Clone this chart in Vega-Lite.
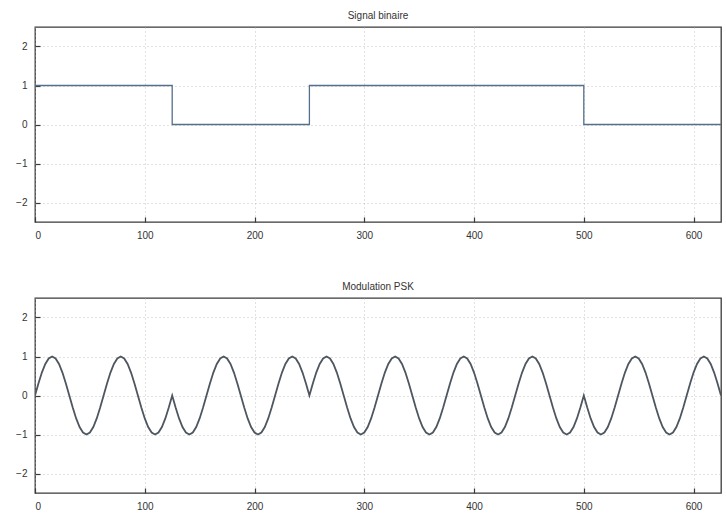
{
  "$schema": "https://vega.github.io/schema/vega-lite/v6.json",
  "padding": {"left": 14, "top": 10, "right": 0, "bottom": 0},
  "background": "white",
  "bounds": "flush",
  "spacing": 76,
  "datasets": {
    "sig": [
      {"t": 0, "y": 1}, {"t": 125, "y": 1}, {"t": 125, "y": 0}, {"t": 250, "y": 0},
      {"t": 250, "y": 1}, {"t": 500, "y": 1}, {"t": 500, "y": 0}, {"t": 625, "y": 0}
    ],
    "psk": [
      {"t":0,"y":0},{"t":3.125,"y":0.309},{"t":6.25,"y":0.588},{"t":9.375,"y":0.809},{"t":12.5,"y":0.951},{"t":15.625,"y":1},{"t":18.75,"y":0.951},{"t":21.875,"y":0.809},{"t":25,"y":0.588},{"t":28.125,"y":0.309},
      {"t":31.25,"y":0},{"t":34.375,"y":-0.309},{"t":37.5,"y":-0.588},{"t":40.625,"y":-0.809},{"t":43.75,"y":-0.951},{"t":46.875,"y":-1},{"t":50,"y":-0.951},{"t":53.125,"y":-0.809},{"t":56.25,"y":-0.588},{"t":59.375,"y":-0.309},
      {"t":62.5,"y":0},{"t":65.625,"y":0.309},{"t":68.75,"y":0.588},{"t":71.875,"y":0.809},{"t":75,"y":0.951},{"t":78.125,"y":1},{"t":81.25,"y":0.951},{"t":84.375,"y":0.809},{"t":87.5,"y":0.588},{"t":90.625,"y":0.309},
      {"t":93.75,"y":0},{"t":96.875,"y":-0.309},{"t":100,"y":-0.588},{"t":103.125,"y":-0.809},{"t":106.25,"y":-0.951},{"t":109.375,"y":-1},{"t":112.5,"y":-0.951},{"t":115.625,"y":-0.809},{"t":118.75,"y":-0.588},{"t":121.875,"y":-0.309},
      {"t":125,"y":0},{"t":128.125,"y":-0.309},{"t":131.25,"y":-0.588},{"t":134.375,"y":-0.809},{"t":137.5,"y":-0.951},{"t":140.625,"y":-1},{"t":143.75,"y":-0.951},{"t":146.875,"y":-0.809},{"t":150,"y":-0.588},{"t":153.125,"y":-0.309},
      {"t":156.25,"y":0},{"t":159.375,"y":0.309},{"t":162.5,"y":0.588},{"t":165.625,"y":0.809},{"t":168.75,"y":0.951},{"t":171.875,"y":1},{"t":175,"y":0.951},{"t":178.125,"y":0.809},{"t":181.25,"y":0.588},{"t":184.375,"y":0.309},
      {"t":187.5,"y":0},{"t":190.625,"y":-0.309},{"t":193.75,"y":-0.588},{"t":196.875,"y":-0.809},{"t":200,"y":-0.951},{"t":203.125,"y":-1},{"t":206.25,"y":-0.951},{"t":209.375,"y":-0.809},{"t":212.5,"y":-0.588},{"t":215.625,"y":-0.309},
      {"t":218.75,"y":0},{"t":221.875,"y":0.309},{"t":225,"y":0.588},{"t":228.125,"y":0.809},{"t":231.25,"y":0.951},{"t":234.375,"y":1},{"t":237.5,"y":0.951},{"t":240.625,"y":0.809},{"t":243.75,"y":0.588},{"t":246.875,"y":0.309},
      {"t":250,"y":0},{"t":253.125,"y":0.309},{"t":256.25,"y":0.588},{"t":259.375,"y":0.809},{"t":262.5,"y":0.951},{"t":265.625,"y":1},{"t":268.75,"y":0.951},{"t":271.875,"y":0.809},{"t":275,"y":0.588},{"t":278.125,"y":0.309},
      {"t":281.25,"y":0},{"t":284.375,"y":-0.309},{"t":287.5,"y":-0.588},{"t":290.625,"y":-0.809},{"t":293.75,"y":-0.951},{"t":296.875,"y":-1},{"t":300,"y":-0.951},{"t":303.125,"y":-0.809},{"t":306.25,"y":-0.588},{"t":309.375,"y":-0.309},
      {"t":312.5,"y":0},{"t":315.625,"y":0.309},{"t":318.75,"y":0.588},{"t":321.875,"y":0.809},{"t":325,"y":0.951},{"t":328.125,"y":1},{"t":331.25,"y":0.951},{"t":334.375,"y":0.809},{"t":337.5,"y":0.588},{"t":340.625,"y":0.309},
      {"t":343.75,"y":0},{"t":346.875,"y":-0.309},{"t":350,"y":-0.588},{"t":353.125,"y":-0.809},{"t":356.25,"y":-0.951},{"t":359.375,"y":-1},{"t":362.5,"y":-0.951},{"t":365.625,"y":-0.809},{"t":368.75,"y":-0.588},{"t":371.875,"y":-0.309},
      {"t":375,"y":0},{"t":378.125,"y":0.309},{"t":381.25,"y":0.588},{"t":384.375,"y":0.809},{"t":387.5,"y":0.951},{"t":390.625,"y":1},{"t":393.75,"y":0.951},{"t":396.875,"y":0.809},{"t":400,"y":0.588},{"t":403.125,"y":0.309},
      {"t":406.25,"y":0},{"t":409.375,"y":-0.309},{"t":412.5,"y":-0.588},{"t":415.625,"y":-0.809},{"t":418.75,"y":-0.951},{"t":421.875,"y":-1},{"t":425,"y":-0.951},{"t":428.125,"y":-0.809},{"t":431.25,"y":-0.588},{"t":434.375,"y":-0.309},
      {"t":437.5,"y":0},{"t":440.625,"y":0.309},{"t":443.75,"y":0.588},{"t":446.875,"y":0.809},{"t":450,"y":0.951},{"t":453.125,"y":1},{"t":456.25,"y":0.951},{"t":459.375,"y":0.809},{"t":462.5,"y":0.588},{"t":465.625,"y":0.309},
      {"t":468.75,"y":0},{"t":471.875,"y":-0.309},{"t":475,"y":-0.588},{"t":478.125,"y":-0.809},{"t":481.25,"y":-0.951},{"t":484.375,"y":-1},{"t":487.5,"y":-0.951},{"t":490.625,"y":-0.809},{"t":493.75,"y":-0.588},{"t":496.875,"y":-0.309},
      {"t":500,"y":0},{"t":503.125,"y":-0.309},{"t":506.25,"y":-0.588},{"t":509.375,"y":-0.809},{"t":512.5,"y":-0.951},{"t":515.625,"y":-1},{"t":518.75,"y":-0.951},{"t":521.875,"y":-0.809},{"t":525,"y":-0.588},{"t":528.125,"y":-0.309},
      {"t":531.25,"y":0},{"t":534.375,"y":0.309},{"t":537.5,"y":0.588},{"t":540.625,"y":0.809},{"t":543.75,"y":0.951},{"t":546.875,"y":1},{"t":550,"y":0.951},{"t":553.125,"y":0.809},{"t":556.25,"y":0.588},{"t":559.375,"y":0.309},
      {"t":562.5,"y":0},{"t":565.625,"y":-0.309},{"t":568.75,"y":-0.588},{"t":571.875,"y":-0.809},{"t":575,"y":-0.951},{"t":578.125,"y":-1},{"t":581.25,"y":-0.951},{"t":584.375,"y":-0.809},{"t":587.5,"y":-0.588},{"t":590.625,"y":-0.309},
      {"t":593.75,"y":0},{"t":596.875,"y":0.309},{"t":600,"y":0.588},{"t":603.125,"y":0.809},{"t":606.25,"y":0.951},{"t":609.375,"y":1},{"t":612.5,"y":0.951},{"t":615.625,"y":0.809},{"t":618.75,"y":0.588},{"t":621.875,"y":0.309},
      {"t":625,"y":0}
    ]
  },
  "vconcat": [
    {
      "width": 686,
      "height": 195,
      "title": {"text": "Signal binaire", "fontSize": 10, "fontWeight": "normal", "color": "#333", "offset": 6, "font": "Liberation Sans"},
      "data": {"name": "sig"},
      "mark": {"type": "line", "color": "#54708c", "strokeWidth": 1.3, "clip": true},
      "encoding": {
        "x": {"field": "t", "type": "quantitative", "scale": {"domain": [0, 625], "nice": false, "zero": false},
              "axis": {"values": [0, 100, 200, 300, 400, 500, 600], "title": null, "grid": true}},
        "y": {"field": "y", "type": "quantitative", "scale": {"domain": [-2.5, 2.5], "nice": false},
              "axis": {"values": [-2, -1, 0, 1, 2], "title": null, "grid": true}}
      }
    },
    {
      "width": 686,
      "height": 195,
      "title": {"text": "Modulation PSK", "fontSize": 10, "fontWeight": "normal", "color": "#333", "offset": 6, "font": "Liberation Sans"},
      "data": {"name": "psk"},
      "mark": {"type": "line", "color": "#4e5660", "strokeWidth": 1.8, "clip": true},
      "encoding": {
        "x": {"field": "t", "type": "quantitative", "scale": {"domain": [0, 625], "nice": false, "zero": false},
              "axis": {"values": [0, 100, 200, 300, 400, 500, 600], "title": null, "grid": true}},
        "y": {"field": "y", "type": "quantitative", "scale": {"domain": [-2.5, 2.5], "nice": false},
              "axis": {"values": [-2, -1, 0, 1, 2], "title": null, "grid": true}}
      }
    }
  ],
  "config": {
    "font": "Liberation Sans",
    "view": {"stroke": "#3a3a3a", "strokeWidth": 1.3},
    "axis": {
      "domain": false,
      "ticks": true,
      "tickSize": -5,
      "tickColor": "#3a3a3a",
      "tickWidth": 1.2,
      "labelFontSize": 10,
      "labelColor": "#333",
      "labelFont": "Liberation Sans",
      "labelPadding": 13,
      "gridColor": "#aaa",
      "gridDash": [1, 3],
      "gridOpacity": 0.9,
      "gridWidth": 0.8
    }
  }
}
